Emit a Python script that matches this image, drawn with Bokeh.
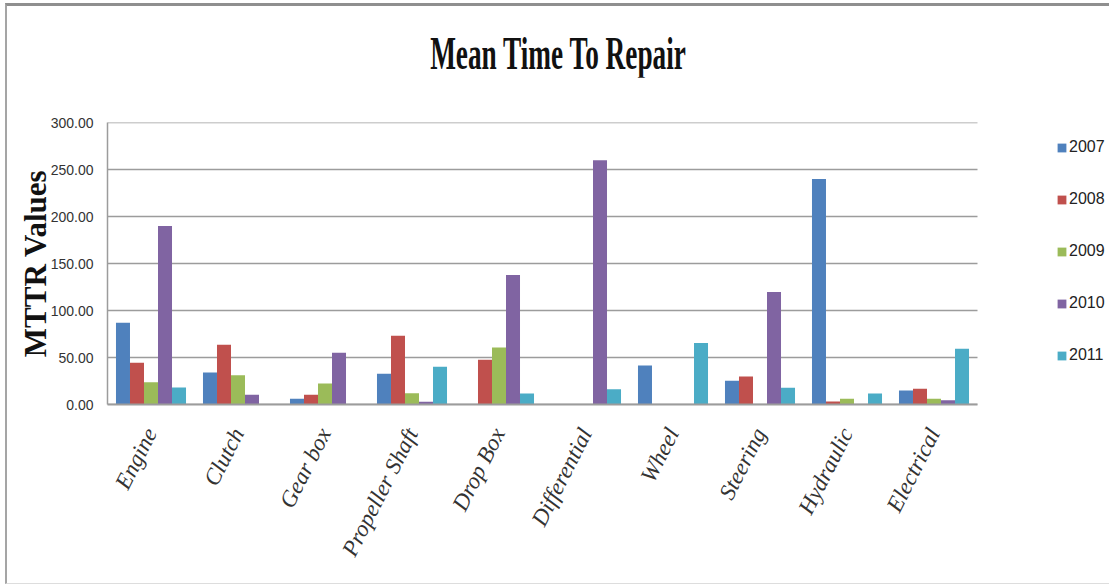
from bokeh.plotting import figure
from bokeh.models import Range1d, Legend, LegendItem, NumeralTickFormatter, FixedTicker, Div
from bokeh.layouts import column
from bokeh.embed import file_html
from bokeh.resources import INLINE

categories = ["Engine", "Clutch", "Gear box", "Propeller Shaft", "Drop Box",
              "Differential", "Wheel", "Steering", "Hydraulic", "Electrical"]
years = ["2007", "2008", "2009", "2010", "2011"]
y2007 = [87.0, 34.0, 6.0, 32.6, 0.0, 0.0, 41.5, 25.2, 240.0, 14.9]
y2008 = [44.4, 63.6, 10.3, 73.1, 47.6, 0.0, 0.0, 29.8, 3.2, 16.7]
y2009 = [23.8, 31.2, 22.4, 12.0, 60.7, 0.0, 0.0, 0.0, 6.0, 6.0]
y2010 = [190.0, 10.3, 55.0, 2.8, 137.7, 259.9, 0.0, 119.6, 0.0, 4.6]
y2011 = [18.1, 0.0, 0.0, 40.1, 11.7, 16.3, 65.3, 17.7, 11.7, 59.3]
y_ticks = [0, 50, 100, 150, 200, 250, 300]

series = [y2007, y2008, y2009, y2010, y2011]
colors = ["#4F81BD", "#C0504D", "#9BBB59", "#8064A2", "#4BACC6"]

n = len(categories)
xs = list(range(n))

# layout constants (pixels)
FIG_W, FIG_H = 1102, 506
BL, BR, BT, BB = 100, 0, 45, 179
CAT_PX = 87.0
x_end = -0.5 + (FIG_W - BL - BR) / CAT_PX

title_div = Div(text="Mean Time To Repair", width=FIG_W, height=47, margin=(24, 0, 0, 0),
                styles={"font-family": "'Liberation Serif', serif", "font-weight": "bold",
                        "font-size": "47px", "line-height": "47px", "text-align": "center",
                        "color": "#111111", "transform": "scaleX(0.58)",
                        "transform-origin": "center center", "white-space": "nowrap"})

p = figure(x_range=Range1d(-0.5, x_end), y_range=Range1d(0, 300),
           width=FIG_W, height=FIG_H, output_backend="svg", toolbar_location=None,
           min_border_left=BL, min_border_right=BR, min_border_top=BT, min_border_bottom=BB)

# horizontal gridlines limited to the category area
p.segment(x0=[-0.5] * len(y_ticks), x1=[n - 0.5] * len(y_ticks), y0=y_ticks, y1=y_ticks,
          line_color="#9c9c9c", line_width=1.5)

bw = 0.161
offsets = [-2 * bw, -bw, 0, bw, 2 * bw]
renderers = []
for yr, vals, off, c in zip(years, series, offsets, colors):
    r = p.vbar(x=[i + off for i in xs], top=vals, width=bw, fill_color=c, line_color=None)
    renderers.append(r)

legend = Legend(items=[LegendItem(label=yr, renderers=[r]) for yr, r in zip(years, renderers)],
                location=(949, 38), orientation="vertical", padding=0, spacing=30,
                glyph_width=11, glyph_height=11, label_height=22, label_standoff=2,
                label_text_font="Liberation Sans", label_text_font_size="16px",
                label_text_color="#222222", border_line_color=None, background_fill_alpha=0,
                margin=0)
p.add_layout(legend)

p.outline_line_color = None
p.xgrid.grid_line_color = None
p.ygrid.grid_line_color = None

p.yaxis.ticker = FixedTicker(ticks=y_ticks)
p.yaxis.formatter = NumeralTickFormatter(format="0.00")
p.yaxis.major_tick_in = 0
p.yaxis.major_tick_out = 0
p.yaxis.minor_tick_line_color = None
p.yaxis.major_label_standoff = 14
p.yaxis.major_label_text_font = "Liberation Sans"
p.yaxis.major_label_text_font_size = "14px"
p.yaxis.major_label_text_color = "#333333"
p.yaxis.axis_line_color = "#9c9c9c"
p.yaxis.axis_line_width = 1.5
p.yaxis.axis_label = "MTTR Values"
p.yaxis.axis_label_text_font = "Liberation Serif"
p.yaxis.axis_label_text_font_style = "bold"
p.yaxis.axis_label_text_font_size = "31px"
p.yaxis.axis_label_text_color = "#111111"
p.yaxis.axis_label_standoff = -5

p.xaxis.ticker = FixedTicker(ticks=xs)
p.xaxis.major_label_overrides = {i: c for i, c in zip(xs, categories)}
p.xaxis.bounds = (-0.5, n - 0.5)
p.xaxis.major_tick_in = 0
p.xaxis.major_tick_out = 0
p.xaxis.minor_tick_line_color = None
p.xaxis.axis_line_color = "#9c9c9c"
p.xaxis.axis_line_width = 2
p.xaxis.major_label_orientation = 1.1
p.xaxis.major_label_standoff = 25
p.xaxis.major_label_text_font = "Liberation Serif"
p.xaxis.major_label_text_font_style = "italic"
p.xaxis.major_label_text_font_size = "23px"
p.xaxis.major_label_text_color = "#333333"

layout = column(title_div, p, spacing=0)
layout.styles = {"border-top": "3px solid #8f8f8f", "border-left": "2px solid #a5a5a5",
                 "border-bottom": "1px solid #dddddd"}
layout.margin = (3, 0, 0, 5)

open("out.html", "w").write(file_html(layout, INLINE))
